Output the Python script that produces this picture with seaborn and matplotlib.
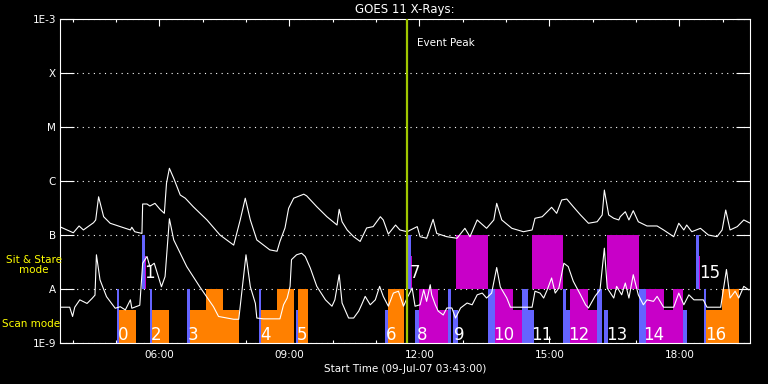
import datetime
import numpy as np
import pandas as pd
import matplotlib
matplotlib.use("Agg")
import matplotlib.pyplot as plt
import matplotlib.dates as mdates
from matplotlib import font_manager
from matplotlib.ticker import FixedLocator, NullLocator
import seaborn as sns

# ---- data (09-Jul-07, start 03:43) ----
start_time = "03:43"
end_time = "19:38"
event_peak = "11:43"

# 1-8 A channel: minutes after start, flux W/m^2
long_min = [0, 18, 26, 32, 46, 49, 53, 60, 69, 83,
            97, 99, 103, 113, 114, 120, 124, 131, 138, 144,
            147, 151, 157, 166, 173, 184, 203, 221, 240, 249,
            256, 263, 272, 290, 300, 304, 311, 316, 323, 337,
            341, 355, 369, 383, 386, 390, 397, 406, 415, 424,
            433, 443, 447, 454, 464, 470, 480, 494, 498, 507,
            516, 521, 535, 549, 560, 567, 577, 590, 600, 604,
            611, 625, 641, 653, 657, 667, 674, 680, 687, 694,
            701, 710, 720, 731, 743, 750, 753, 759, 766, 773,
            775, 782, 787, 793, 800, 812, 826, 835, 849, 856,
            863, 867, 874, 886, 897, 909, 916, 921, 927, 937,
            946, 955]
long_flux = [1.41e-7, 1.10e-7, 1.47e-7, 1.24e-7, 1.69e-7, 1.90e-7, 5.1e-7, 2.18e-7, 1.65e-7, 1.43e-7,
             1.24e-7, 1.39e-7, 1.15e-7, 1.07e-7, 3.75e-7, 3.75e-7, 3.44e-7, 3.86e-7, 2.99e-7, 2.52e-7,
             9.1e-7, 1.72e-6, 1.12e-6, 5.5e-7, 4.8e-7, 3.34e-7, 1.90e-7, 1.0e-7, 6.5e-8, 1.90e-7,
             4.8e-7, 1.90e-7, 8.1e-8, 5.3e-8, 5.0e-8, 7.6e-8, 1.35e-7, 3.12e-7, 4.8e-7, 5.7e-7,
             5.3e-7, 3.34e-7, 2.18e-7, 1.53e-7, 2.99e-7, 1.76e-7, 1.24e-7, 9.3e-8, 7.6e-8, 1.35e-7,
             1.43e-7, 2.18e-7, 1.90e-7, 1.04e-7, 1.53e-7, 1.24e-7, 1.15e-7, 1.43e-7, 9.3e-8, 8.7e-8,
             1.95e-7, 1.07e-7, 9.3e-8, 8.7e-8, 1.33e-7, 9.3e-8, 1.90e-7, 1.33e-7, 1.90e-7, 3.86e-7,
             1.90e-7, 1.33e-7, 1.15e-7, 1.24e-7, 2.04e-7, 2.18e-7, 2.70e-7, 3.26e-7, 2.52e-7, 4.45e-7,
             4.64e-7, 3.34e-7, 2.35e-7, 1.65e-7, 1.76e-7, 2.35e-7, 6.8e-7, 2.35e-7, 2.04e-7, 1.90e-7,
             2.18e-7, 2.70e-7, 1.90e-7, 2.82e-7, 1.76e-7, 1.47e-7, 1.47e-7, 1.24e-7, 9.3e-8, 1.65e-7,
             1.24e-7, 1.53e-7, 1.15e-7, 1.33e-7, 1.0e-7, 9.3e-8, 1.24e-7, 2.90e-7, 1.24e-7, 1.43e-7,
             1.90e-7, 1.65e-7]

# 0.5-4 A channel
short_min = [0, 13, 17, 20, 27, 37, 44, 48, 50, 55,
             64, 76, 83, 90, 97, 99, 110, 114, 120, 124,
             130, 140, 145, 151, 157, 175, 193, 212, 219, 240,
             247, 251, 257, 263, 270, 272, 281, 304, 309, 314,
             318, 320, 327, 334, 339, 346, 355, 367, 376, 380,
             386, 390, 399, 406, 413, 417, 422, 429, 436, 442,
             447, 454, 461, 468, 475, 480, 487, 491, 498, 503,
             507, 512, 514, 519, 523, 530, 535, 542, 547, 554,
             563, 570, 577, 584, 590, 597, 604, 609, 618, 623,
             653, 657, 664, 669, 674, 680, 685, 690, 697, 703,
             710, 720, 727, 731, 740, 747, 753, 757, 766, 770,
             777, 782, 787, 793, 800, 807, 812, 821, 826, 835,
             849, 856, 863, 870, 877, 890, 895, 914, 918, 922,
             927, 934, 939, 946, 953]
short_flux = [4.6e-9, 4.6e-9, 3.1e-9, 4.6e-9, 6.3e-9, 5.4e-9, 6.7e-9, 7.7e-9, 4.3e-8, 1.47e-8,
              7.2e-9, 4.4e-9, 4.7e-9, 4.1e-9, 6.3e-9, 4.4e-9, 5.0e-9, 3.0e-8, 4.0e-8, 2.6e-8,
              3.0e-8, 1.1e-8, 1.7e-8, 2.0e-7, 8.1e-8, 2.6e-8, 1.1e-8, 4.7e-9, 3.1e-9, 2.75e-9,
              2.75e-9, 8.3e-9, 4.3e-8, 1.1e-8, 5.4e-9, 2.9e-9, 2.8e-9, 2.8e-9, 5.1e-9, 6.8e-9,
              1.12e-8, 3.5e-8, 4.3e-8, 4.6e-8, 4.0e-8, 2.45e-8, 1.12e-8, 6.3e-9, 4.8e-9, 6.3e-9,
              1.84e-8, 5.5e-9, 2.9e-9, 2.9e-9, 3.9e-9, 5.1e-9, 7.3e-9, 5.1e-9, 6.3e-9, 1.12e-8,
              7.3e-9, 4.8e-9, 8.4e-9, 9.1e-9, 4.8e-9, 6.8e-9, 1.04e-8, 4.8e-9, 5.1e-9, 9.7e-9,
              5.9e-9, 1.2e-8, 7.8e-9, 5.1e-9, 3.9e-9, 3.3e-9, 4.45e-9, 4.45e-9, 2.9e-9, 4.45e-9,
              5.5e-9, 5.1e-9, 7.8e-9, 8.4e-9, 6.8e-9, 8.4e-9, 2.5e-8, 1.09e-8, 6.8e-9, 4.6e-9,
              4.6e-9, 9.1e-9, 8.4e-9, 6.8e-9, 9.7e-9, 1.6e-8, 8.4e-9, 1.04e-8, 3.0e-8, 2.6e-8,
              1.39e-8, 7.8e-9, 5.1e-9, 4.45e-9, 7.3e-9, 9.7e-9, 5.7e-8, 1.04e-8, 6.8e-9, 1.12e-8,
              7.8e-9, 1.29e-8, 6.8e-9, 1.84e-8, 7.8e-9, 5.1e-9, 6.3e-9, 5.9e-9, 7.3e-9, 4.6e-9,
              4.6e-9, 8.4e-9, 5.1e-9, 7.8e-9, 6.3e-9, 6.3e-9, 4.6e-9, 4.6e-9, 1.04e-8, 2.3e-8,
              6.8e-9, 9.1e-9, 6.8e-9, 1.12e-8, 9.6e-9]

# instrument blocks: (start, end, band, level)
slew_blocks = [("05:02", "05:04", "scan", "full"), ("05:36", "05:40", "sit", "full"),
               ("05:47", "05:50", "scan", "full"), ("06:38", "06:43", "scan", "full"),
               ("08:18", "08:21", "scan", "full"), ("09:09", "09:12", "scan", "low"),
               ("11:12", "11:17", "scan", "low"), ("11:44", "11:48", "sit", "full"),
               ("11:54", "12:00", "scan", "low"), ("12:39", "12:44", "scan", "full"),
               ("12:47", "12:53", "scan", "low"), ("13:35", "13:45", "scan", "full"),
               ("14:22", "14:30", "scan", "full"), ("14:30", "14:38", "scan", "low"),
               ("15:19", "15:23", "scan", "full"), ("15:23", "15:29", "scan", "low"),
               ("16:06", "16:13", "scan", "full"), ("16:16", "16:21", "scan", "low"),
               ("17:04", "17:13", "scan", "full"), ("18:05", "18:11", "scan", "low"),
               ("18:23", "18:27", "sit", "full"), ("18:34", "18:37", "scan", "full")]
scan_blocks = [("05:04", "05:28", "scan", "low"), ("05:50", "06:13", "scan", "low"),
               ("06:43", "07:50", "scan", "low"), ("07:05", "07:28", "scan", "full"),
               ("08:21", "09:07", "scan", "low"), ("08:43", "09:07", "scan", "full"),
               ("09:12", "09:26", "scan", "full"), ("11:17", "11:39", "scan", "full"),
               ("18:37", "18:59", "scan", "low"), ("18:59", "19:23", "scan", "full")]
stare_blocks = [("05:40", "05:42", "sit", "low"), ("11:48", "11:50", "sit", "low"),
                ("12:00", "12:26", "scan", "full"), ("12:26", "12:39", "scan", "low"),
                ("12:51", "13:35", "sit", "full"), ("13:45", "14:09", "scan", "full"),
                ("14:09", "14:22", "scan", "low"), ("14:36", "15:19", "sit", "full"),
                ("15:29", "15:54", "scan", "full"), ("15:54", "16:06", "scan", "low"),
                ("16:20", "17:04", "sit", "full"), ("17:13", "18:05", "scan", "low"),
                ("17:13", "17:39", "scan", "full"), ("17:51", "18:05", "scan", "full"),
                ("18:27", "18:29", "sit", "low")]

obs_times = ["05:03", "05:39", "05:48", "06:40", "08:20", "09:10", "11:14", "11:47", "11:56",
             "12:48", "13:42", "14:34", "15:26", "16:19", "17:10", "18:27", "18:36"]
obs_bands = ["scan", "sit", "scan", "scan", "scan", "scan", "scan", "sit", "scan",
             "scan", "scan", "scan", "scan", "scan", "scan", "sit", "scan"]

level_ticks = [1e-9, 1e-8, 1e-7, 1e-6, 1e-5, 1e-4, 1e-3]
level_labels = ["1E-9", "A", "B", "C", "M", "X", "1E-3"]

# ---- helpers ----
day = datetime.datetime(2007, 7, 9)


def tnum(s):
    h, m = s.split(":")
    return mdates.date2num(day + datetime.timedelta(hours=int(h), minutes=int(m)))


t0 = tnum(start_time)


def span(band, level):
    lo = 1e-9 if band == "scan" else 1e-8
    hi = lo * (10 if level == "full" else 10 ** 0.61)
    return lo, hi


long_df = pd.DataFrame({"t": t0 + np.array(long_min) / 1440.0, "flux": long_flux})
short_df = pd.DataFrame({"t": t0 + np.array(short_min) / 1440.0, "flux": short_flux})

sns.set_theme(style="dark", rc={"axes.facecolor": "black", "figure.facecolor": "black",
                                "axes.grid": False})
plt.rcParams["font.family"] = ["DejaVu Sans"]
names = {f.name for f in font_manager.fontManager.ttflist}
num_font = "Liberation Sans Narrow" if "Liberation Sans Narrow" in names else "DejaVu Sans"

fig = plt.figure(figsize=(7.68, 3.84), dpi=100)
ax = fig.add_axes([60.3 / 768, 1 - 343 / 384, 690 / 768, 324 / 384])
ax.set_facecolor("black")

for blocks, col in [(slew_blocks, "#6464FF"), (scan_blocks, "#FF8000"), (stare_blocks, "#C800C8")]:
    xs = [tnum(b[0]) for b in blocks]
    ws = [tnum(b[1]) - tnum(b[0]) for b in blocks]
    lo = [span(b[2], b[3])[0] for b in blocks]
    hi = [span(b[2], b[3])[1] for b in blocks]
    ax.bar(xs, np.array(hi) - np.array(lo), width=ws, bottom=lo, align="edge",
           color=col, linewidth=0, zorder=2)

sns.lineplot(data=long_df, x="t", y="flux", ax=ax, color="white", lw=0.8,
             estimator=None, sort=False, zorder=3)
sns.lineplot(data=short_df, x="t", y="flux", ax=ax, color="white", lw=0.8,
             estimator=None, sort=False, zorder=3)

ax.axvline(tnum(event_peak), color="#A0C800", lw=1.6, zorder=3)
ax.annotate("Event Peak", xy=(tnum(event_peak), 1), xycoords=("data", "axes fraction"),
            xytext=(7, -17), textcoords="offset points", color="white", fontsize=7.5,
            va="center", ha="left")

for i, (tm, band) in enumerate(zip(obs_times, obs_bands)):
    y = 1.15e-9 if band == "scan" else 1.6e-8
    ax.text(tnum(tm), y, str(i), color="white", fontsize=12, family=num_font,
            ha="left", va="baseline", zorder=4)

ax.set_yscale("log")
ax.set_ylim(1e-9, 1e-3)
ax.set_xlim(t0, tnum(end_time))
ax.yaxis.set_major_locator(FixedLocator(level_ticks))
ax.yaxis.set_minor_locator(NullLocator())
ax.set_yticklabels(level_labels)
ax.xaxis.set_major_locator(mdates.HourLocator(byhour=range(0, 24, 3)))
ax.xaxis.set_minor_locator(mdates.HourLocator())
ax.xaxis.set_major_formatter(mdates.DateFormatter("%H:%M"))

ax.grid(False)
ax.yaxis.grid(True, which="major", color="white", linestyle=(0, (1, 4)), lw=0.8)
ax.set_axisbelow(True)

ax.tick_params(axis="y", which="major", direction="in", length=10, width=0.8,
               color="white", labelcolor="white", left=True, right=True, labelsize=7.5, pad=3)
ax.tick_params(axis="x", which="major", direction="in", length=5, width=0.8,
               color="white", labelcolor="white", top=True, bottom=True, labelsize=7.5, pad=5)
ax.tick_params(axis="x", which="minor", direction="in", length=2.5, width=0.8,
               color="white", top=True, bottom=True)
for sp in ax.spines.values():
    sp.set_color("white")
    sp.set_linewidth(0.8)

ax.set_xlabel("Start Time (09-Jul-07 03:43:00)", color="white", fontsize=7.5, labelpad=3)
ax.set_ylabel("")
fig.text((60.3 + 750.3) / 2 / 768, 1 - 10 / 384, "GOES 11 X-Rays:", color="white",
         fontsize=8.5, ha="center", va="center")
fig.text(34 / 768, 1 - 265 / 384, "Sit & Stare\nmode", color="#FFFF00", fontsize=7.5,
         ha="center", va="center", linespacing=1.0)
fig.text(2 / 768, 1 - 324 / 384, "Scan mode", color="#FFFF00", fontsize=7.5,
         ha="left", va="center")

fig.savefig("out.png", dpi=100, facecolor="black")
